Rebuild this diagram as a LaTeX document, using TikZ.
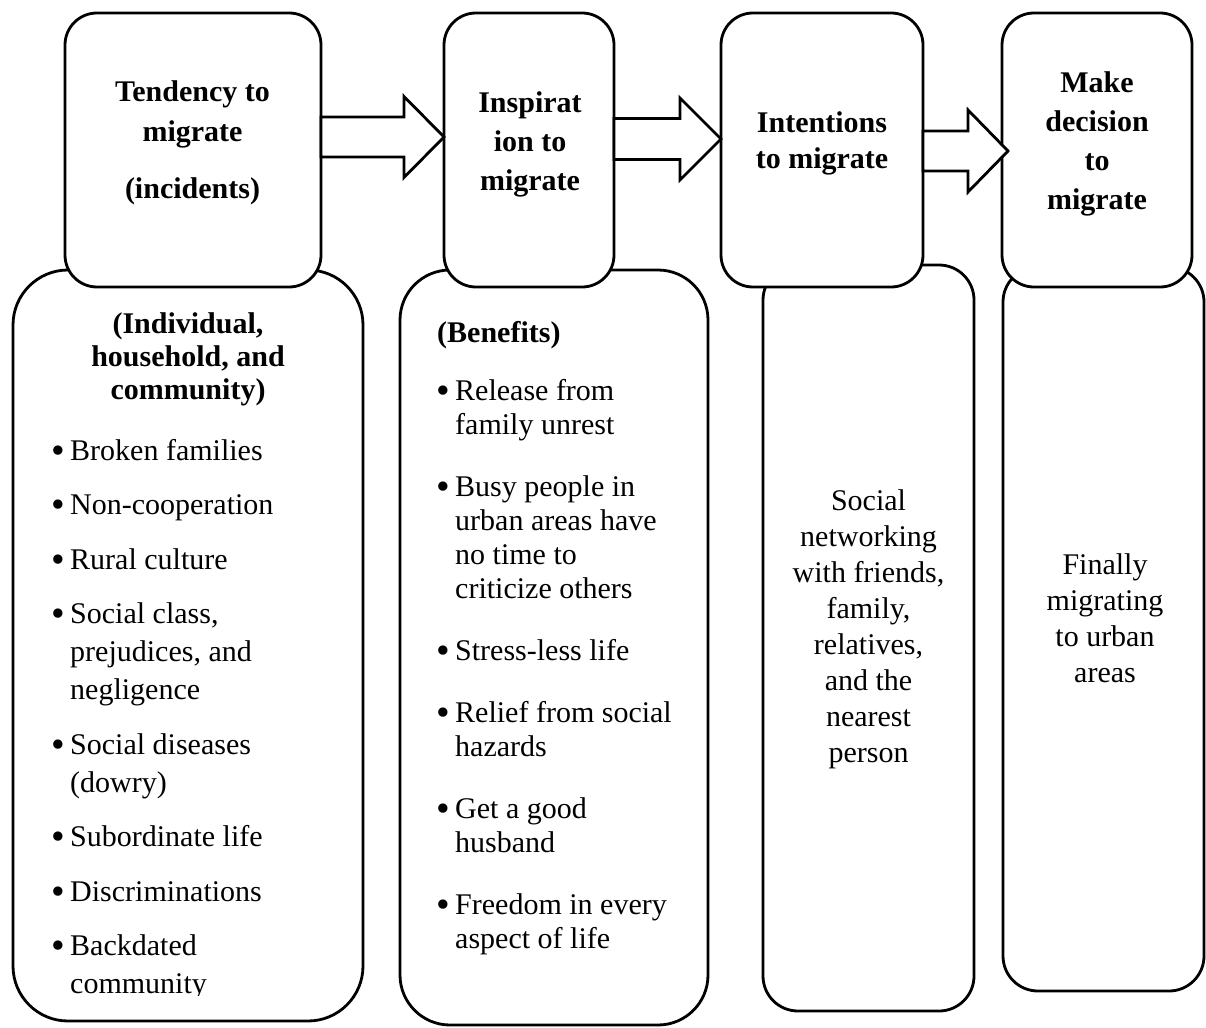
\documentclass[tikz,border=0pt]{standalone}
\usepackage{fontspec}
\usepackage{graphicx}
\setmainfont{Liberation Serif}
\usetikzlibrary{calc}

% stacked lines with a fixed baseline distance; first baseline is the box baseline
\newcommand\centerlines[2]{\vtop{\baselineskip=#1\lineskiplimit=-100pt\lineskip=0pt\halign{\hfil##\hfil\cr#2\crcr}}}
\newcommand\leftlines[2]{\vtop{\baselineskip=#1\lineskiplimit=-100pt\lineskip=0pt\halign{##\hfil\cr#2\crcr}}}
\newcommand\itemgap[1]{\noalign{\vskip#1}}
\newcommand\bul{\makebox[19pt][l]{\raisebox{-3pt}{\scalebox{1.3}{\char"2022}}}}
\newcommand\indentgap{\hspace*{19pt}}

\tikzset{
  panel/.style={draw=black, line width=2.8pt, fill=white, rounded corners=#1,
    inner sep=0pt, outer sep=0pt},
  blockarrow/.style={draw=black, line width=2.8pt, fill=white, line join=miter},
  titletext/.style={font=\fontsize{30}{36}\selectfont\bfseries, inner sep=0pt, anchor=base},
  bodytext/.style={font=\fontsize{30}{36}\selectfont, inner sep=0pt, anchor=base},
}

\begin{document}
\begin{tikzpicture}[x=1pt,y=-1pt]
\useasboundingbox (0,0) rectangle (1206,1027);

% lower panels
\node[panel=55pt, minimum width=350pt, minimum height=751pt] (b1) at (188,645.5) {};
\node[panel=50pt, minimum width=308pt, minimum height=755pt] (b2) at (554,647.5) {};
\node[panel=35pt, minimum width=211pt, minimum height=746pt] (b3) at (868.5,638) {};
\node[panel=35pt, minimum width=201pt, minimum height=724pt] (b4) at (1103.5,629) {};

% stage boxes
\node[panel=32pt, minimum width=256pt, minimum height=274pt] (t1) at (193,150) {};
\node[panel=32pt, minimum width=170pt, minimum height=274pt] (t2) at (529,150) {};
\node[panel=32pt, minimum width=202pt, minimum height=274pt] (t3) at (822,150) {};
\node[panel=32pt, minimum width=190pt, minimum height=274pt] (t4) at (1097,150) {};

% block arrows between the stages
\path (t1.east |- 0,137) coordinate (a1s) (t2.west |- 0,137) coordinate (a1e);
\draw[blockarrow] ($(a1s)+(0,-20)$) -- ($(a1e)+(-40,-20)$) -- ($(a1e)+(-40,-40.5)$)
  -- (a1e) -- ($(a1e)+(-40,40.5)$) -- ($(a1e)+(-40,20)$) -- ($(a1s)+(0,20)$) -- cycle;

\path (t2.east |- 0,139) coordinate (a2s) (t3.west |- 0,139) coordinate (a2e);
\draw[blockarrow] ($(a2s)+(0,-20.5)$) -- ($(a2e)+(-41,-20.5)$) -- ($(a2e)+(-41,-41)$)
  -- (a2e) -- ($(a2e)+(-41,41)$) -- ($(a2e)+(-41,20.5)$) -- ($(a2s)+(0,20.5)$) -- cycle;

\path (t3.east |- 0,151) coordinate (a3s) ($(t4.west |- 0,151)+(6,0)$) coordinate (a3e);
\draw[blockarrow] ($(a3s)+(0,-20)$) -- ($(a3e)+(-40,-20)$) -- ($(a3e)+(-40,-41)$)
  -- (a3e) -- ($(a3e)+(-40,41)$) -- ($(a3e)+(-40,20)$) -- ($(a3s)+(0,20)$) -- cycle;

% stage titles
\node[titletext] (t1txt) at (192.5,102)
  {\centerlines{40pt}{Tendency to\cr migrate\cr\itemgap{17pt}(incidents)}};
\node[titletext] (t2txt) at (530,112.5)
  {\centerlines{39pt}{Inspirat\cr ion to\cr migrate}};
\node[titletext] (t3txt) at (822,133)
  {\centerlines{36pt}{Intentions\cr to migrate}};
\node[titletext] (t4txt) at (1097,92.5)
  {\centerlines{39pt}{Make\cr decision\cr to\cr migrate}};

% panel 1: incidents
\node[titletext] (b1head) at (188,333)
  {\centerlines{33pt}{(Individual,\cr household, and\cr community)}};
\begin{scope}
\clip (13,270) rectangle (363,995);
\node[bodytext, anchor=base west] (b1list) at (51,460)
  {\leftlines{38pt}{%
  \bul Broken families\cr\itemgap{16.5pt}%
  \bul Non-cooperation\cr\itemgap{16.5pt}%
  \bul Rural culture\cr\itemgap{16.5pt}%
  \bul Social class,\cr
  \indentgap prejudices, and\cr
  \indentgap negligence\cr\itemgap{16.5pt}%
  \bul Social diseases\cr
  \indentgap (dowry)\cr\itemgap{16.5pt}%
  \bul Subordinate life\cr\itemgap{16.5pt}%
  \bul Discriminations\cr\itemgap{16.5pt}%
  \bul Backdated\cr
  \indentgap community}};
\end{scope}

% panel 2: benefits
\node[titletext, anchor=base west] (b2head) at (437,342) {(Benefits)};
\node[bodytext, anchor=base west] (b2list) at (436,400)
  {\leftlines{34pt}{%
  \bul Release from\cr
  \indentgap family unrest\cr\itemgap{28pt}%
  \bul Busy people in\cr
  \indentgap urban areas have\cr
  \indentgap no time to\cr
  \indentgap criticize others\cr\itemgap{28pt}%
  \bul Stress-less life\cr\itemgap{28pt}%
  \bul Relief from social\cr
  \indentgap hazards\cr\itemgap{28pt}%
  \bul Get a good\cr
  \indentgap husband\cr\itemgap{28pt}%
  \bul Freedom in every\cr
  \indentgap aspect of life}};

% panel 3 and 4
\node[bodytext] (b3txt) at (868.5,510)
  {\centerlines{36pt}{Social\cr networking\cr with friends,\cr family,\cr relatives,\cr and the\cr nearest\cr person}};
\node[bodytext] (b4txt) at (1105,574)
  {\centerlines{36pt}{Finally\cr migrating\cr to urban\cr areas}};
\end{tikzpicture}
\end{document}
